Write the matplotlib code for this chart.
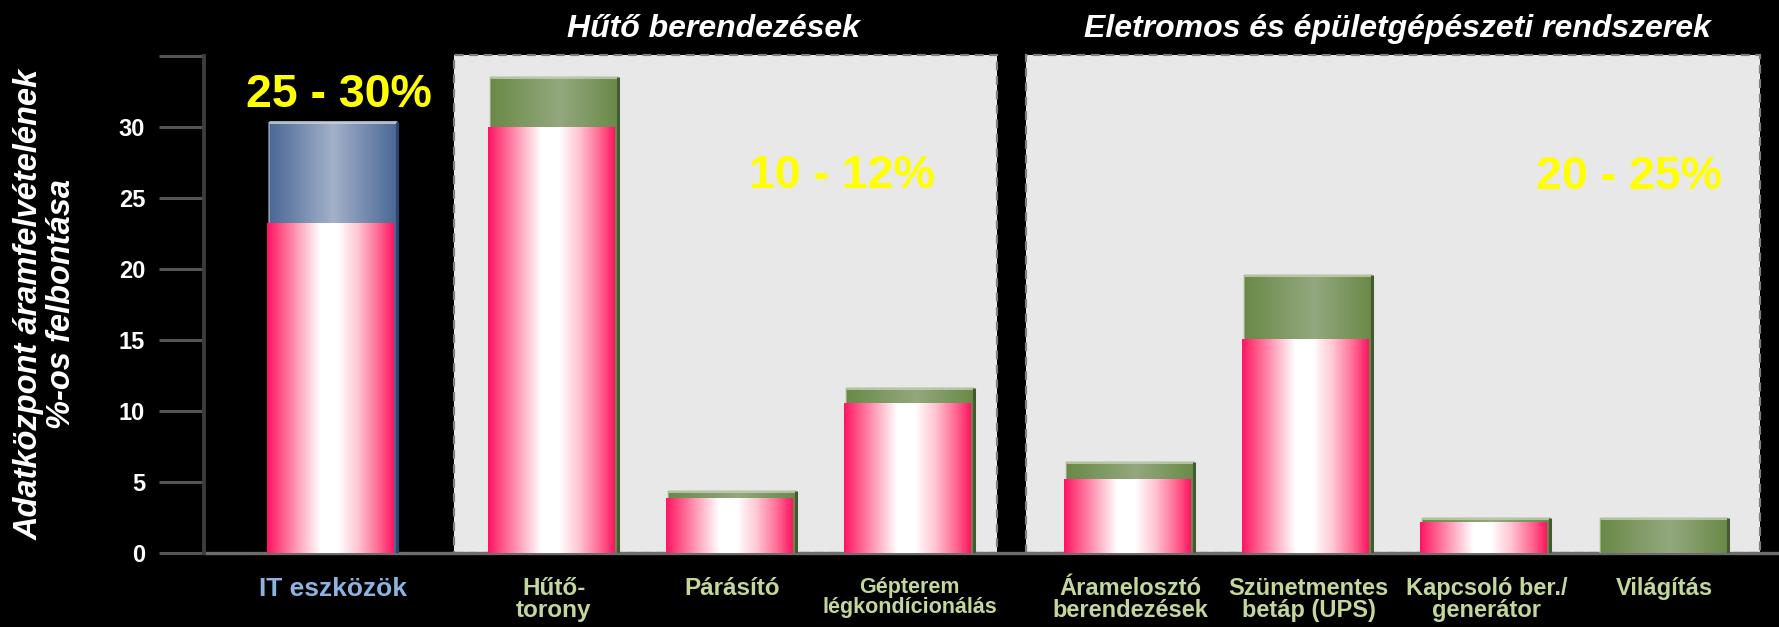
import numpy as np
import matplotlib
matplotlib.use('Agg')
import matplotlib.pyplot as plt
import matplotlib.font_manager as fm
from matplotlib.patches import Rectangle
from matplotlib.colors import LinearSegmentedColormap

# ---------------- data ----------------
categories = ['IT eszközök', 'Hűtő-\ntorony', 'Párásító', 'Gépterem\nlégkondícionálás',
              'Áramelosztó\nberendezések', 'Szünetmentes\nbetáp (UPS)',
              'Kapcsoló ber./\ngenerátor', 'Világítás']
groups = [0, 1, 1, 1, 2, 2, 2, 2]
upper_values = [30.3, 33.5, 4.4, 11.6, 6.4, 19.6, 2.5, 2.5]
lower_values = [23.2, 30.0, 3.9, 10.6, 5.2, 15.1, 2.2, 0.0]
group_titles = ['Hűtő berendezések', 'Eletromos és épületgépészeti rendszerek']
range_labels = ['25 - 30%', '10 - 12%', '20 - 25%']
yticks = [0, 5, 10, 15, 20, 25, 30, 35]
ytick_labels = ['0', '5', '10', '15', '20', '25', '30', '']
ylabel = 'Adatközpont áramfelvételének\n%-os felbontása'

# ---------------- fonts ----------------
names = {f.name for f in fm.fontManager.ttflist}
BASE = 'Liberation Sans' if 'Liberation Sans' in names else 'DejaVu Sans'
plt.rcParams['font.family'] = [BASE, 'DejaVu Sans']

# ---------------- figure ----------------
W, H = 1779, 627
fig = plt.figure(figsize=(W / 100, H / 100), dpi=100, facecolor='black')
ax = fig.add_axes([204 / W, (H - 553.3) / H, 1575 / W, (553.3 - 55.6) / H])
ax.set_facecolor('black')

PX_PER_UNIT = 178.0
pos = np.arange(len(categories)) + 0.24 * np.array(groups)
xlim = (pos[0] - 129 / PX_PER_UNIT, pos[0] - 129 / PX_PER_UNIT + 1575 / PX_PER_UNIT)

back_w = 0.719
front_w = 0.708
front_shift = -0.017

pink = LinearSegmentedColormap.from_list('pink', [
    (0.0, '#FF1464'), (0.12, '#FF5A8A'), (0.3, '#FFBFD0'), (0.42, '#FFFFFF'),
    (0.56, '#FFFFFF'), (0.72, '#FFC4D2'), (0.88, '#FF6A92'), (1.0, '#FF1464')])
green = LinearSegmentedColormap.from_list('green', [
    (0.0, '#6A8947'), (0.55, '#93A87E'), (1.0, '#6A8947')])
blue = LinearSegmentedColormap.from_list('blue', [
    (0.0, '#4A6795'), (0.5, '#A3B1C9'), (1.0, '#4A6795')])

grad = np.linspace(0, 1, 256).reshape(1, -1)


def gradient_fill(patches, cmaps, zorder):
    for p, cm in zip(patches, cmaps):
        x, y = p.get_x(), p.get_y()
        w, h = p.get_width(), p.get_height()
        if h <= 0:
            continue
        im = ax.imshow(grad, cmap=cm, extent=[x, x + w, y, y + h], aspect='auto',
                       zorder=zorder, interpolation='bilinear')
        im.set_clip_path(p)


# panels
panel_spans = [(pos[1] - 0.56, pos[3] + 0.49), (pos[4] - 0.587, pos[7] + 0.537)]
for x0, x1 in panel_spans:
    ax.add_patch(Rectangle((x0, 0), x1 - x0, 35.05, facecolor='#E8E8E8',
                           edgecolor='#7F7F7F', lw=1.6, linestyle=(0, (4, 2.5)),
                           zorder=0.5, clip_on=False))

# back bars
back_cmaps = [blue if g == 0 else green for g in groups]
back = ax.bar(pos, upper_values, width=back_w,
              color=['#4A6795' if g == 0 else '#6A8947' for g in groups],
              linewidth=0, zorder=2)
gradient_fill(back, back_cmaps, 2.1)
top_hl = ['#C9D2E0' if g == 0 else '#C4CFB8' for g in groups]
right_dk = ['#2E4470' if g == 0 else '#435A33' for g in groups]
ax.hlines(upper_values, pos - back_w / 2, pos + back_w / 2, colors=top_hl, lw=2.2, zorder=2.2, alpha=0.8)
ax.vlines(pos + back_w / 2, 0, upper_values, colors=right_dk, lw=2.2, zorder=2.2)
ax.vlines(pos - back_w / 2, 0, upper_values, colors=top_hl, lw=1.2, zorder=2.2, alpha=0.6)

# front bars
front = ax.bar(pos + front_shift, lower_values, width=front_w, color='#FF1464', linewidth=0, zorder=3)
gradient_fill(front, [pink] * len(front), 3.1)

ax.set_xlim(*xlim)
ax.set_ylim(0, 35)

# axes styling
for s in ['top', 'right']:
    ax.spines[s].set_visible(False)
ax.spines['left'].set_color('#3C3C3C')
ax.spines['left'].set_linewidth(2.8)
ax.spines['bottom'].set_color('#6E6E6E')
ax.spines['bottom'].set_linewidth(2.4)
ax.spines['left'].set_zorder(5)
ax.spines['bottom'].set_zorder(1)

ax.set_yticks(yticks)
ax.set_yticklabels(ytick_labels, fontsize=17, fontweight='bold', color='white')
ax.tick_params(axis='y', length=32.4, width=2.2, color='#555555', pad=10)

ax.set_xticks(pos)
ax.set_xticklabels(categories)
ax.tick_params(axis='x', length=0, pad=17)
label_sizes = [19, 17.5, 17.5, 15.5, 17, 17, 17, 17]
for lab, g, fs in zip(ax.get_xticklabels(), groups, label_sizes):
    lab.set_fontweight('bold')
    lab.set_multialignment('center')
    lab.set_linespacing(0.95)
    lab.set_fontsize(fs)
    lab.set_color('#8DB3E2' if g == 0 else '#C3D69B')

# range labels
ax.text(0.034, 31.4, range_labels[0], color='#FFFF00', fontsize=33.5,
        fontweight='bold', ha='center', va='baseline', zorder=6, clip_on=False)
ax.text(2.862, 25.7, range_labels[1], color='#FFFF00', fontsize=33.5,
        fontweight='bold', ha='center', va='baseline', zorder=6)
ax.text(7.281, 25.6, range_labels[2], color='#FFFF00', fontsize=33.5,
        fontweight='bold', ha='center', va='baseline', zorder=6)

# group titles
ax.text(2.135, 36.3, group_titles[0], color='white', fontsize=23, fontweight='bold',
        fontstyle='italic', ha='center', va='baseline', clip_on=False)
ax.text(5.978, 36.3, group_titles[1], color='white', fontsize=23, fontweight='bold',
        fontstyle='italic', ha='center', va='baseline', clip_on=False)

# y label
fig.text(45 / W, 1 - 304 / H, ylabel, rotation=90, ha='center', va='center',
         multialignment='center', fontsize=23.5, fontweight='bold', fontstyle='italic',
         color='white', linespacing=1.05)

fig.savefig('out.png', dpi=100, facecolor='black')
